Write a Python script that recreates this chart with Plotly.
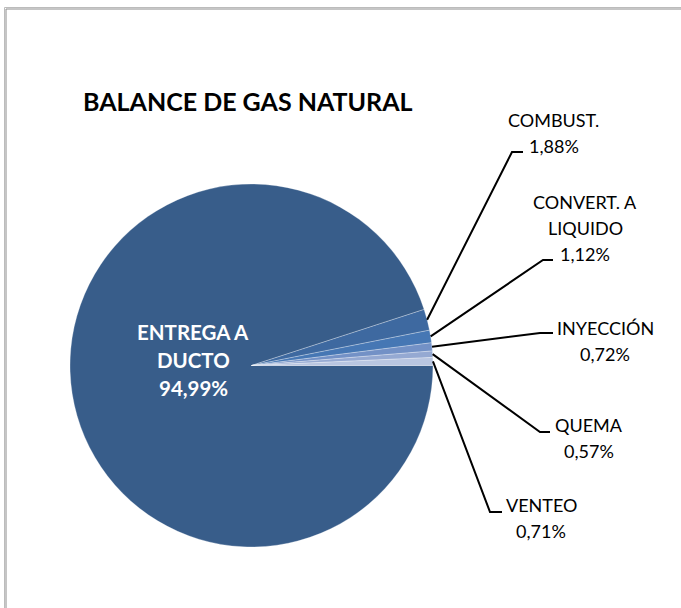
import math
import plotly.graph_objects as go

# ---------------- data ----------------
categories = ["ENTREGA A DUCTO", "COMBUST.", "CONVERT. A LIQUIDO", "INYECCIÓN", "QUEMA", "VENTEO"]
label_lines = [["ENTREGA A", "DUCTO"], ["COMBUST."], ["CONVERT. A", "LIQUIDO"], ["INYECCIÓN"], ["QUEMA"], ["VENTEO"]]
values = [94.99, 1.88, 1.12, 0.72, 0.57, 0.71]
colors = ["#385D8A", "#3E69A0", "#4677B4", "#7391C6", "#95A9D2", "#B9C6E1"]
title_text = "BALANCE DE GAS NATURAL"

# ---------------- layout constants (pixels) ----------------
W, H = 681, 608
cx, cy, R = 251.5, 365.5, 181.5
FONT = "Lato"

# label placement: (center x, first-line center y), knee point, end point of leader
label_pos = [(193, 332), (553.5, 120), (585, 201.5), (605, 328), (589, 425), (541, 505)]
knees = [None, (512, 152), (543, 260), (540, 333), (540, 432), (490, 512)]
ends = [None, (523, 152), (553, 260), (553, 333), (550, 432), (502, 512)]


def px(x):
    return x / W


def py(y):
    return 1 - y / H


fig = go.Figure(
    go.Pie(
        labels=categories,
        values=values,
        sort=False,
        direction="clockwise",
        rotation=90,
        textinfo="none",
        hoverinfo="label+value",
        marker=dict(colors=colors, line=dict(color="rgba(255,255,255,0.35)", width=0.8)),
        domain=dict(x=[px(cx - R), px(cx + R)], y=[py(cy + R), py(cy - R)]),
        showlegend=False,
    )
)

shapes = [
    # outer chart border (gray double line, extends past the right/bottom edges)
    dict(type="rect", xref="paper", yref="paper", x0=px(4.5), y0=py(7.5), x1=px(720), y1=py(660),
         line=dict(color="#bcbcbc", width=1), layer="below"),
    dict(type="rect", xref="paper", yref="paper", x0=px(6), y0=py(9), x1=px(720), y1=py(660),
         line=dict(color="#8c8c8c", width=1), layer="below"),
]
annotations = [
    dict(text="<b>" + title_text + "</b>", x=px(248), y=py(101), xref="paper", yref="paper",
         showarrow=False, xanchor="center", yanchor="middle",
         font=dict(family=FONT, size=25, color="#000000")),
]

total = sum(values)
cum = 0.0
for i, v in enumerate(values):
    mid = cum + v / 2
    cum += v
    pct = f"{v:.2f}".replace(".", ",") + "%"
    lines = label_lines[i] + [pct]
    lx, ly = label_pos[i]
    inside = knees[i] is None
    pitch = 28 if inside else 26
    for k, t in enumerate(lines):
        annotations.append(dict(
            text=("<b>" + t + "</b>") if inside else t,
            x=px(lx), y=py(ly + k * pitch), xref="paper", yref="paper",
            showarrow=False, xanchor="center", yanchor="middle",
            font=dict(family=FONT, size=20.5 if inside else 18,
                      color="#ffffff" if inside else "#000000"),
        ))
    if not inside:
        theta = math.radians(90 + mid / total * 360)
        ex = cx + R * math.sin(theta)
        ey = cy - R * math.cos(theta)
        kx, ky = knees[i]
        nx, ny = ends[i]
        path = f"M {px(ex)},{py(ey)} L {px(kx)},{py(ky)} L {px(nx)},{py(ny)}"
        shapes.append(dict(type="path", xref="paper", yref="paper", path=path,
                           line=dict(color="#000000", width=2)))

fig.update_layout(
    width=W, height=H,
    margin=dict(l=0, r=0, t=0, b=0),
    paper_bgcolor="#ffffff",
    plot_bgcolor="#ffffff",
    shapes=shapes,
    annotations=annotations,
)

fig.write_html("out.html", config={"displayModeBar": False},
               post_script="document.body.style.margin='0';document.body.style.overflow='hidden';")
